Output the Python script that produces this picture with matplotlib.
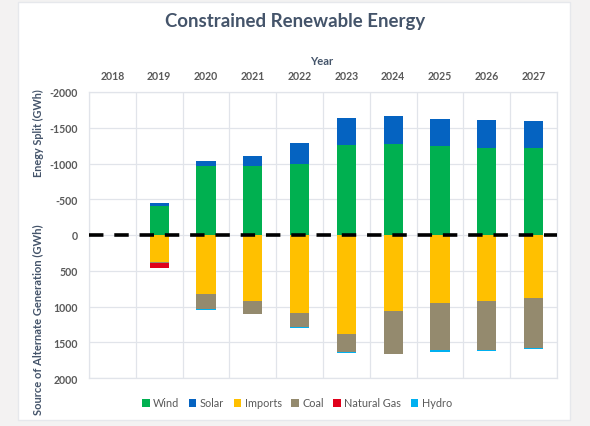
""" Constrained renewable energy split chart """
import matplotlib
matplotlib.use("Agg")
import matplotlib.pyplot as plt
from matplotlib.patches import Rectangle
import numpy as np

plt.rcParams["font.family"] = ["Lato", "DejaVu Sans"]

# data (GWh)
years = ["2018", "2019", "2020", "2021", "2022", "2023", "2024", "2025", "2026", "2027"]
wind = [0, 410, 967, 967, 990, 1256, 1269, 1246, 1223, 1214]
solar = [0, 33, 70, 135, 293, 385, 391, 382, 386, 381]
imports = [0, 372, 823, 930, 1088, 1381, 1056, 958, 930, 888]
coal = [0, 23, 214, 172, 197, 256, 609, 656, 674, 698]
natural_gas = [0, 61, 0, 0, 0, 0, 0, 0, 0, 0]
hydro = [0, 0, 8, 8, 17, 18, 6, 18, 12, 12]
y_ticks = [-2000, -1500, -1000, -500, 0, 500, 1000, 1500, 2000]

colors = {
    "Wind": "#00B050",
    "Solar": "#0563C1",
    "Imports": "#FFC000",
    "Coal": "#948A6E",
    "Natural Gas": "#E0001B",
    "Hydro": "#00B0F0",
}
text_col = "#44546A"

fig = plt.figure(figsize=(5.9, 4.27), dpi=100)
fig.patch.set_facecolor("#F3F2F2")
# white card behind everything
fig.patches.append(Rectangle((18 / 590, 1 - 421 / 427), (570 - 18) / 590, (421 - 3) / 427,
                             transform=fig.transFigure, facecolor="white",
                             edgecolor="#E6E8EC", lw=1, zorder=-5))

ax = fig.add_axes([89 / 590, 1 - 379 / 427, (557 - 89) / 590, (379 - 93) / 427])
ax.set_facecolor("white")

x = np.arange(len(years))
w = 0.41

# renewable energy split drawn upwards (negative values on inverted axis)
wind_neg = -np.array(wind)
solar_neg = -np.array(solar)
ax.bar(x, wind_neg, w, color=colors["Wind"], label="Wind", zorder=3)
ax.bar(x, solar_neg, w, bottom=wind_neg, color=colors["Solar"], label="Solar", zorder=3)

# alternate generation sources drawn downwards
bottom = np.zeros(len(years))
for name, vals in [("Imports", imports), ("Coal", coal),
                   ("Natural Gas", natural_gas), ("Hydro", hydro)]:
    ax.bar(x, vals, w, bottom=bottom, color=colors[name], label=name, zorder=3)
    bottom += np.array(vals)

ax.axhline(0, color="black", lw=2.6, ls=(0, (4, 3)), zorder=4)

ax.set_xlim(-0.5, len(years) - 0.5)
ax.set_ylim(2000, -2000)
ax.set_yticks(y_ticks)
ax.set_yticklabels([str(v) for v in y_ticks])
ax.set_xticks(x)
ax.set_xticklabels(years)
ax.set_xticks(np.arange(-0.5, len(years), 1), minor=True)
ax.xaxis.tick_top()
ax.tick_params(axis="both", which="both", length=0, labelsize=7.6, colors="#595959")
ax.tick_params(axis="x", pad=8)
ax.tick_params(axis="y", pad=8)
for lab in ax.get_xticklabels() + ax.get_yticklabels():
    lab.set_fontweight("bold")
ax.grid(True, which="minor", axis="x", color="#E1E4EA", lw=0.9, zorder=0)
ax.grid(True, which="major", axis="y", color="#E1E4EA", lw=0.9, zorder=0)
for s in ax.spines.values():
    s.set_color("#E1E4EA")
    s.set_linewidth(0.9)

fig.text(295 / 590, 1 - 22 / 427, "Constrained Renewable Energy", ha="center", va="center",
         fontsize=13.4, fontweight="bold", color=text_col)
fig.text(322 / 590, 1 - 62 / 427, "Year", ha="center", va="center",
         fontsize=8, fontweight="bold", color=text_col)
fig.text(38 / 590, 1 - 133 / 427, "Enegy Split (GWh)", ha="center", va="center",
         rotation=90, fontsize=7.8, fontweight="bold", color=text_col)
fig.text(38 / 590, 1 - 320 / 427, "Source of Alternate Generation (GWh)", ha="center",
         va="center", rotation=90, fontsize=8, fontweight="bold", color=text_col)

handles, labels = ax.get_legend_handles_labels()
leg = fig.legend(handles, labels, loc="center", bbox_to_anchor=(297 / 590, 1 - 404 / 427),
                 ncol=6, frameon=False, fontsize=7.8, handlelength=0.7, handleheight=0.7,
                 handletextpad=0.3, columnspacing=0.9, labelcolor="#595959")

fig.savefig("out.png", dpi=100)
